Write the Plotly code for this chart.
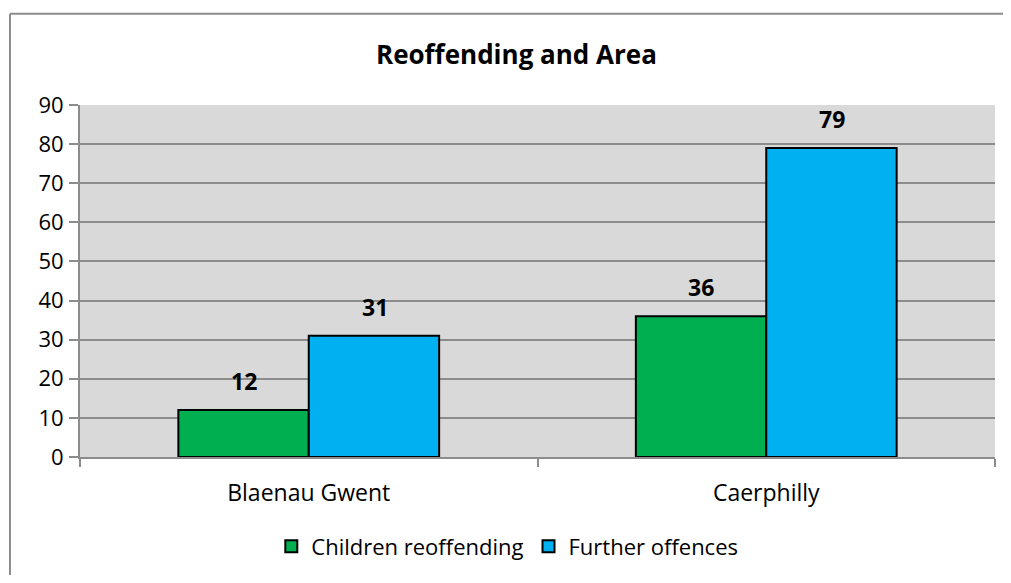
import plotly.graph_objects as go

# Datos
areas = ["Blaenau Gwent", "Caerphilly"]
children_reoffending = [12, 36]
further_offences = [31, 79]
y_ticks = [0, 10, 20, 30, 40, 50, 60, 70, 80, 90]

verde = "#00b050"
azul = "#00b0f0"
gris_grid = "#8c8c8c"
fuente = "Open Sans, sans-serif"

fig = go.Figure()
fig.add_trace(go.Bar(
    name="Children reoffending", x=areas, y=children_reoffending,
    marker=dict(color=verde, line=dict(color="black", width=2)),
))
fig.add_trace(go.Bar(
    name="Further offences", x=areas, y=further_offences,
    marker=dict(color=azul, line=dict(color="black", width=2)),
))

# Etiquetas de valor sobre cada barra
anots = []
for serie, desplaz in [(children_reoffending, -65), (further_offences, 66)]:
    for area, valor in zip(areas, serie):
        anots.append(dict(
            x=area, y=valor, text=f"<b>{valor}</b>", showarrow=False,
            xshift=desplaz, yshift=11, yanchor="bottom",
            font=dict(size=23, color="black", family=fuente),
        ))

# La página tiene un margen de 8 px, así que la figura se ajusta
fig.update_layout(
    width=995, height=567,
    margin=dict(l=72, r=8, t=97, b=115),
    paper_bgcolor="white",
    plot_bgcolor="#d9d9d9",
    barmode="group",
    bargap=0.43,
    bargroupgap=0,
    font=dict(family=fuente, size=22, color="black"),
    title=dict(text="<b>Reoffending and Area</b>", x=0.511, xanchor="center",
               y=1 - 47 / 567, yanchor="middle", font=dict(size=26)),
    legend=dict(orientation="h", x=0.467, xanchor="center", y=-0.254, yanchor="middle",
                font=dict(size=22), itemwidth=30, traceorder="normal"),
    annotations=anots,
    shapes=[
        # borde exterior del gráfico
        dict(type="line", xref="paper", yref="paper", x0=-0.0765, x1=-0.0765,
             y0=1.259, y1=-0.36, line=dict(color="#8c8c8c", width=2)),
        dict(type="line", xref="paper", yref="paper", x0=-0.0765, x1=1.03,
             y0=1.259, y1=1.259, line=dict(color="#8c8c8c", width=2)),
    ],
)

fig.update_yaxes(
    range=[0, 90], tickvals=y_ticks, showgrid=True, gridcolor=gris_grid, gridwidth=2,
    showline=True, linecolor=gris_grid, linewidth=2,
    ticks="outside", ticklen=9, tickcolor=gris_grid, tickwidth=2,
    zeroline=False, tickfont=dict(size=22), ticklabelstandoff=1,
)
fig.update_xaxes(
    showline=True, linecolor=gris_grid, linewidth=2,
    ticks="outside", tickson="boundaries", ticklen=8, tickcolor=gris_grid, tickwidth=2,
    tickfont=dict(size=23), ticklabelstandoff=14,
)

fig.write_html("out.html")
